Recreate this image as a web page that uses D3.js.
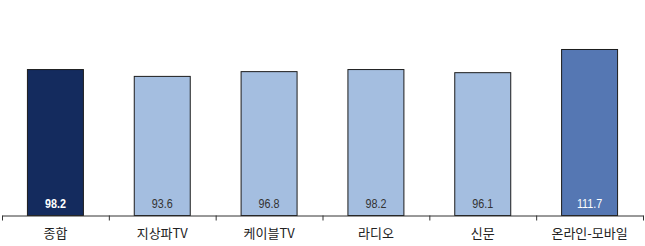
<!DOCTYPE html>
<html><head><meta charset="utf-8">
<script src="https://cdn.jsdelivr.net/npm/d3@7"></script>
<style>body{margin:0;background:#fff}</style>
</head><body><svg id="c" width="645" height="246"></svg>
<script>
const categories = ["종합","지상파TV","케이블TV","라디오","신문","온라인-모바일"];
const values = [98.2, 93.6, 96.8, 98.2, 96.1, 111.7];
const valueLabels = ["98.2","93.6","96.8","98.2","96.1","111.7"];

const fills = ["#142b5e","#a4bee0","#a4bee0","#a4bee0","#a4bee0","#5577b3"];
const labelColors = ["#ffffff","#333333","#333333","#333333","#333333","#ffffff"];
const labelWeights = ["bold","normal","normal","normal","normal","normal"];

const svg = d3.select("#c");
const x = d3.scaleBand().domain(categories).range([2, 643]).paddingInner(0.476).paddingOuter(0.238);
const y = d3.scaleLinear().domain([0, 145]).range([215.5, 0]);

svg.selectAll("rect.bar").data(values).join("rect")
  .attr("class","bar")
  .attr("x",(d,i)=>x(categories[i]))
  .attr("width",x.bandwidth())
  .attr("y",d=>y(d))
  .attr("height",d=>y(0)-y(d))
  .attr("fill",(d,i)=>fills[i])
  .attr("stroke","#1c1c1c").attr("stroke-width",1);

svg.selectAll("g.val").data(values).join("g")
  .attr("class","val")
  .attr("transform",(d,i)=>`translate(${x(categories[i])+x.bandwidth()/2},207.5) scale(0.83,1)`)
  .append("text")
  .attr("text-anchor","middle")
  .attr("font-family","'Liberation Sans Narrow','Arial Narrow','Liberation Sans',sans-serif")
  .attr("font-size",13)
  .attr("font-weight",(d,i)=>labelWeights[i])
  .attr("fill",(d,i)=>labelColors[i])
  .text((d,i)=>valueLabels[i]);

const band = d3.scaleBand().domain(categories).range([2,643]);
const axis = d3.axisBottom(band).tickSize(0).tickPadding(0);
const g = svg.append("g").attr("transform","translate(0,215.5)");
g.call(axis);
g.select(".domain").attr("stroke","#333");
g.selectAll(".tick text")
  .attr("y",18).attr("dy","0.35em")
  .attr("font-family","'Noto Sans CJK KR',sans-serif")
  .attr("font-size",13)
  .attr("fill","#222");
const bounds = categories.map(c=>band(c)).concat([643]);
g.selectAll("line.sep").data(bounds).join("line")
  .attr("class","sep")
  .attr("x1",d=>d+0.5).attr("x2",d=>d+0.5)
  .attr("y1",0).attr("y2",5)
  .attr("stroke","#333");
</script></body></html>
